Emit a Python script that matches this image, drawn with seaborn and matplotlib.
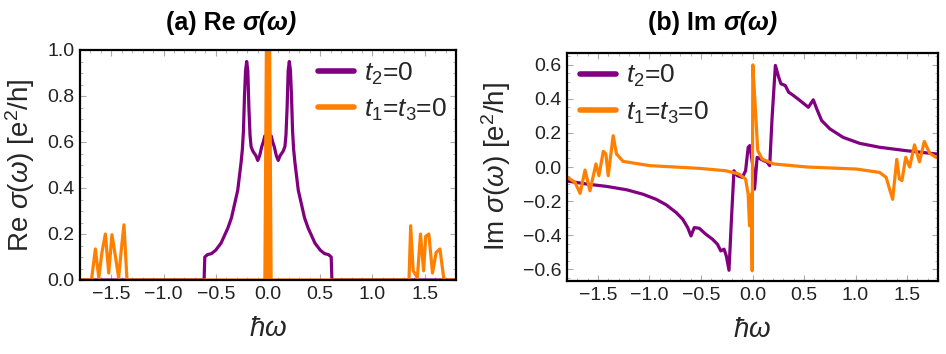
import numpy as np
import pandas as pd
import matplotlib
matplotlib.use("Agg")
import matplotlib.pyplot as plt
import seaborn as sns
from matplotlib.ticker import MultipleLocator
from matplotlib.offsetbox import TextArea, HPacker, AnchoredOffsetbox

# ---------------- data ----------------
re_purple_x = [-1.8, -0.612, -0.605, -0.58, -0.54, -0.5, -0.45, -0.42, -0.385, -0.35,
               -0.32, -0.29, -0.274, -0.258, -0.245, -0.235, -0.225, -0.215, -0.204,
               -0.193, -0.183, -0.172, -0.162, -0.145, -0.13, -0.115, -0.098, -0.08,
               -0.06, -0.045, -0.03, -0.015, 0.0,
               0.015, 0.03, 0.045, 0.06, 0.08, 0.098, 0.115, 0.13, 0.145, 0.162, 0.172,
               0.183, 0.193, 0.204, 0.215, 0.225, 0.235, 0.245, 0.258, 0.274, 0.29, 0.32,
               0.35, 0.385, 0.42, 0.45, 0.5, 0.54, 0.58, 0.605, 0.612, 1.8]
re_purple_y = [0.0, 0.0, 0.10, 0.11, 0.115, 0.13, 0.16, 0.19, 0.225, 0.27,
               0.33, 0.39, 0.45, 0.51, 0.57, 0.65, 0.80, 0.91, 0.95,
               0.91, 0.75, 0.63, 0.58, 0.56, 0.55, 0.54, 0.52, 0.54,
               0.58, 0.60, 0.627, 0.60, 0.55,
               0.60, 0.627, 0.60, 0.58, 0.54, 0.52, 0.54, 0.55, 0.56, 0.58, 0.63,
               0.75, 0.91, 0.95, 0.91, 0.80, 0.65, 0.57, 0.51, 0.45, 0.39, 0.33,
               0.27, 0.225, 0.19, 0.16, 0.13, 0.115, 0.11, 0.10, 0.0, 0.0]

re_orange_x = [-1.8, -1.69, -1.653, -1.62, -1.59, -1.557, -1.525, -1.494, -1.46, -1.43,
               -1.405, -1.379, -1.35, -0.03, -0.004, 0.0, 0.004, 0.03, 1.35, 1.366, 1.39,
               1.43, 1.46, 1.49, 1.51, 1.54, 1.575, 1.61, 1.646, 1.685, 1.8]
re_orange_y = [0.0, 0.0, 0.135, 0.01, 0.12, 0.20, 0.03, 0.197, 0.10, 0.01,
               0.13, 0.24, 0.0, 0.0, 1.8, 0.0, 1.8, 0.0, 0.0, 0.236, 0.04,
               0.01, 0.20, 0.04, 0.19, 0.20, 0.03, 0.12, 0.135, 0.0, 0.0]

im_purple_x = [-1.8, -1.77, -1.61, -1.416, -1.22, -1.063, -0.934, -0.838, -0.742, -0.677,
               -0.629, -0.597, -0.565, -0.517, -0.453, -0.389, -0.34, -0.308, -0.276,
               -0.254, -0.228, -0.205, -0.18, -0.147, -0.099, -0.067, -0.042, -0.026,
               0.0, 0.02, 0.045, 0.077, 0.109, 0.14, 0.167, 0.19, 0.222, 0.254, 0.276,
               0.318, 0.35, 0.398, 0.462, 0.542, 0.59, 0.623, 0.671, 0.751, 0.88, 1.04,
               1.233, 1.49, 1.78, 1.8]
im_purple_y = [-0.083, -0.085, -0.10, -0.114, -0.134, -0.16, -0.19, -0.222, -0.267, -0.307,
               -0.356, -0.405, -0.356, -0.36, -0.395, -0.424, -0.454, -0.493, -0.483,
               -0.523, -0.607, -0.316, -0.022, -0.051, -0.061, -0.022, 0.116, 0.126,
               0.02, -0.13, 0.057, 0.047, 0.037, 0.03, 0.008, 0.29, 0.597, 0.528, 0.489,
               0.479, 0.44, 0.42, 0.39, 0.351, 0.395, 0.342, 0.273, 0.224, 0.174, 0.139,
               0.116, 0.096, 0.077, 0.076]

im_orange_x = [-1.8, -1.77, -1.722, -1.673, -1.625, -1.577, -1.519, -1.49, -1.448, -1.423,
               -1.40, -1.352, -1.32, -1.256, -0.999, -0.517, -0.26, -0.132, -0.067, -0.042,
               -0.029, -0.013, -0.003, 0.003, 0.029, 0.051, 0.093, 0.205, 0.527, 1.008,
               1.233, 1.297, 1.33, 1.36, 1.40, 1.425, 1.45, 1.487, 1.525, 1.572, 1.62,
               1.667, 1.72, 1.78, 1.8]
im_orange_y = [-0.06, -0.071, -0.09, -0.155, -0.018, -0.14, 0.018, -0.051, 0.092, 0.077,
               -0.051, 0.184, 0.077, 0.033, 0.008, -0.008, -0.022, -0.041, -0.071, -0.16,
               -0.346, -0.16, -0.61, 0.60, 0.33, 0.096, 0.047, 0.018, 0.0, -0.012,
               -0.032, -0.061, -0.13, -0.19, 0.045, -0.07, -0.08, 0.057, 0.0, 0.13, 0.03,
               0.15, 0.08, 0.057, 0.055]

x_ticks = [-1.5, -1.0, -0.5, 0.0, 0.5, 1.0, 1.5]
re_yticks = [0.0, 0.2, 0.4, 0.6, 0.8, 1.0]
im_yticks = [-0.6, -0.4, -0.2, 0.0, 0.2, 0.4, 0.6]
label_a = r"$t_2$=0"
label_b = r"$t_1$=$t_3$=0"

PURPLE = "#800080"
ORANGE = "#ff8000"

# ---------------- style ----------------
sns.set_theme(style="white")
plt.rcParams["font.family"] = ["Liberation Sans", "DejaVu Sans"]
plt.rcParams["mathtext.fontset"] = "custom"
plt.rcParams["mathtext.rm"] = "Liberation Sans"
plt.rcParams["mathtext.it"] = "Liberation Sans:italic"
plt.rcParams["mathtext.bf"] = "Liberation Sans:bold"

fig = plt.figure(figsize=(9.46, 3.54), dpi=100)
W, H = 946.0, 354.0
axL = fig.add_axes([80 / W, (H - 280) / H, 376 / W, 230 / H])
axR = fig.add_axes([567 / W, (H - 281) / H, 371 / W, 228 / H])

def draw(ax, xs, ys, color, label):
    df = pd.DataFrame({"x": xs, "y": ys})
    sns.lineplot(data=df, x="x", y="y", ax=ax, color=color, lw=2.3,
                 label=label, estimator=None, sort=False)

draw(axL, re_purple_x, re_purple_y, PURPLE, label_a)
draw(axL, re_orange_x, re_orange_y, ORANGE, label_b)
draw(axR, im_purple_x, im_purple_y, PURPLE, label_a)
draw(axR, im_orange_x, im_orange_y, ORANGE, label_b)

axL.set_xlim(-1.8, 1.8)
axL.set_ylim(0.0, 1.0)
axR.set_xlim(-1.8, 1.8)
axR.set_ylim(-0.67, 0.67)

for ax, yt in ((axL, re_yticks), (axR, im_yticks)):
    ax.set_xticks(x_ticks)
    ax.set_xticklabels([f"{v:.1f}".replace("-", "\u2212") for v in x_ticks])
    ax.set_yticks(yt)
    ax.set_yticklabels([f"{v:.1f}".replace("-", "\u2212") for v in yt])
    ax.xaxis.set_minor_locator(MultipleLocator(0.1))
    ax.yaxis.set_minor_locator(MultipleLocator(0.05))
    ax.tick_params(which="both", direction="in", top=True, right=True,
                   bottom=True, left=True, color="#aaaaaa", labelsize=14,
                   labelcolor="#222222")
    ax.tick_params(which="major", length=4, width=0.8, pad=4)
    ax.tick_params(which="minor", length=2, width=0.6)
    for s in ax.spines.values():
        s.set_color("black")
        s.set_linewidth(1.6)
        s.set_visible(True)
    ax.set_xlabel(r"$\hbar\omega$", fontsize=20, labelpad=10)

axL.set_ylabel(r"Re $\sigma(\omega)$ [e$^2$/h]", fontsize=20, labelpad=7)
axR.set_ylabel(r"Im $\sigma(\omega)$ [e$^2$/h]", fontsize=20, labelpad=7)

for ax, anchor in ((axL, (0.633, 0.955)), (axR, (0.035, 0.955))):
    leg = ax.legend(loc="upper left", bbox_to_anchor=anchor, frameon=False,
                    fontsize=19, handlelength=1.35, handletextpad=0.4,
                    labelspacing=0.38, borderaxespad=0, borderpad=0)
    for ln in leg.get_lines():
        ln.set_linewidth(4)

def title(xc, yc, prefix):
    t1 = TextArea(prefix, textprops=dict(fontsize=18, fontweight="bold", color="black"))
    t2 = TextArea("σ(ω)", textprops=dict(fontsize=18, fontweight="bold",
                                          fontstyle="italic", color="black"))
    box = HPacker(children=[t1, t2], align="baseline", pad=0, sep=0)
    anc = AnchoredOffsetbox(loc="center", child=box, frameon=False, pad=0, borderpad=0,
                            bbox_to_anchor=(xc / W, 1 - yc / H),
                            bbox_transform=fig.transFigure)
    fig.add_artist(anc)

title(231, 23, "(a) Re ")
title(713, 23, "(b) Im ")

fig.savefig("out.png", dpi=100)
